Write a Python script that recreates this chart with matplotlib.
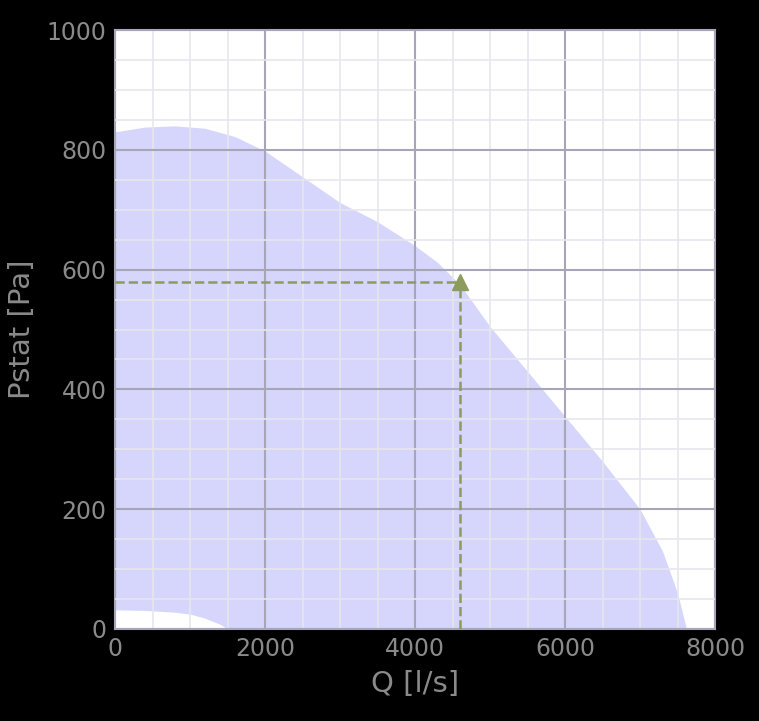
import matplotlib
matplotlib.use("Agg")
import matplotlib.pyplot as plt
import numpy as np

upper_q = [0, 400, 800, 1200, 1600, 2000, 2500, 3000, 3500, 4000, 4300, 4600, 5000, 5500, 6000, 6500, 7000, 7300, 7500, 7620]
upper_p = [830, 838, 840, 836, 822, 798, 755, 712, 680, 640, 612, 575, 505, 430, 355, 280, 200, 130, 60, 0]
lower_q = [0, 400, 800, 1000, 1200, 1400, 1500, 7620]
lower_p = [32, 31, 28, 25, 18, 8, 0, 0]
op_q, op_p = 4600, 580

fig = plt.figure(figsize=(7.59, 7.21), dpi=100, facecolor="black")
ax = fig.add_axes([115/759, 1-629/721, 600/759, 599/721])
ax.set_facecolor("white")
qq = np.linspace(0, 7620, 400)
up = np.interp(qq, upper_q, upper_p)
lo = np.interp(qq, lower_q, lower_p)
ax.fill_between(qq, lo, up, color="#d6d6fc", lw=0, zorder=2)
ax.set_xlim(0, 8000); ax.set_ylim(0, 1000)
ax.set_xticks(np.arange(0, 8001, 2000)); ax.set_yticks(np.arange(0, 1001, 200))
ax.set_xticks(np.arange(0, 8001, 500), minor=True); ax.set_yticks(np.arange(0, 1001, 50), minor=True)
ax.grid(which="major", color="#a6a6b8", lw=1.5, zorder=3)
ax.grid(which="minor", color="#e6e6ee", lw=1.2, zorder=1)
ax.set_axisbelow(False)
ax.plot([0, op_q], [op_p, op_p], ls="--", color="#8c9c5c", lw=1.8, zorder=4)
ax.plot([op_q, op_q], [0, op_p], ls="--", color="#8c9c5c", lw=1.8, zorder=4)
ax.plot([op_q], [op_p], marker="^", color="#8c9c5c", ms=11, zorder=5)
for s in ax.spines.values():
    s.set_color("#a6a6b8"); s.set_linewidth(1.5)
ax.tick_params(which="both", length=0, labelsize=17, colors="#8a8a8a", pad=6)
ax.set_xlabel("Q [l/s]", fontsize=21, color="#8a8a8a", labelpad=6)
ax.set_ylabel("Pstat [Pa]", fontsize=21, color="#8a8a8a", labelpad=8)
fig.savefig("out.png", dpi=100, facecolor="black")
